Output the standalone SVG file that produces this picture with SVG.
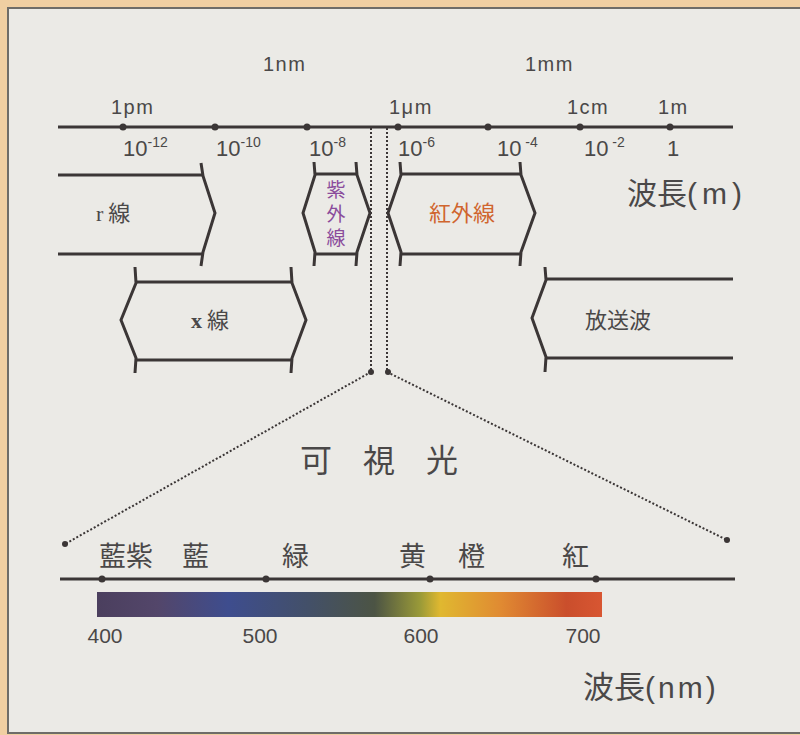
<svg xmlns="http://www.w3.org/2000/svg" width="800" height="735" viewBox="0 0 800 735">
<defs>
<style>
.ln{stroke:#3b3636;stroke-width:3;fill:none;stroke-linecap:butt}
.sh{stroke:#3b3636;stroke-width:3;fill:none;stroke-linejoin:miter}
.dot{fill:#3b3636}
.dt{stroke:#3b3636;stroke-width:2;fill:none;stroke-dasharray:2,2}
.lat{font-family:"Liberation Sans","DejaVu Sans",sans-serif;fill:#4a4848}
.jp{font-family:"Noto Sans CJK JP","Noto Sans CJK SC",sans-serif;fill:#4a4848}
</style>
<linearGradient id="spec" x1="0" y1="0" x2="1" y2="0">
<stop offset="0" stop-color="#4b3f5e"/>
<stop offset="0.12" stop-color="#53466a"/>
<stop offset="0.26" stop-color="#3e4d8e"/>
<stop offset="0.42" stop-color="#435068"/>
<stop offset="0.55" stop-color="#4c5444"/>
<stop offset="0.64" stop-color="#9a9a38"/>
<stop offset="0.68" stop-color="#e0b830"/>
<stop offset="0.80" stop-color="#e08a32"/>
<stop offset="0.93" stop-color="#ca4e2c"/>
<stop offset="1" stop-color="#d85632"/>
</linearGradient>
</defs>
<rect x="0" y="0" width="800" height="735" fill="#f0cfa2"/>
<rect x="8" y="8" width="800" height="725" fill="#ebeae6" stroke="#6e6c68" stroke-width="2"/>

<g id="top-axis">
<line class="ln" x1="58" y1="127" x2="733" y2="127"/>
<circle class="dot" cx="123" cy="127" r="3.5"/>
<circle class="dot" cx="215" cy="127" r="3.5"/>
<circle class="dot" cx="307" cy="127" r="3.5"/>
<circle class="dot" cx="398" cy="127" r="3.5"/>
<circle class="dot" cx="488" cy="127" r="3.5"/>
<circle class="dot" cx="580" cy="127" r="3.5"/>
<circle class="dot" cx="670" cy="127" r="3.5"/>
<g class="lat" font-size="20" letter-spacing="1.5">
<text x="263" y="71">1nm</text>
<text x="525" y="71">1mm</text>
<text x="111" y="114">1pm</text>
<text x="389" y="114">1μm</text>
<text x="567" y="114">1cm</text>
<text x="658" y="114">1m</text>
</g>
<g class="lat" font-size="22">
<text x="123" y="156">10<tspan font-size="14" dy="-9">-12</tspan></text>
<text x="216" y="156">10<tspan font-size="14" dy="-9">-10</tspan></text>
<text x="309" y="156">10<tspan font-size="14" dy="-9">-8</tspan></text>
<text x="398" y="156">10<tspan font-size="14" dy="-9">-6</tspan></text>
<text x="497" y="156">10<tspan font-size="14" dy="-9"> -4</tspan></text>
<text x="584" y="156">10<tspan font-size="14" dy="-9"> -2</tspan></text>
<text x="667" y="156">1</text>
</g>
<text class="jp" x="627" y="204" font-size="30">波長<tspan font-family="Liberation Sans,sans-serif" font-size="30" letter-spacing="5">(m)</tspan></text>
</g>

<g id="gamma">
<line class="ln" x1="58" y1="175" x2="203" y2="175"/>
<line class="ln" x1="58" y1="254" x2="203" y2="254"/>
<path class="sh" d="M201,163 L203,176 L215,213 L203,252 L201,266"/>
<text class="jp" x="96" y="221" font-size="22"><tspan font-family="Liberation Serif,serif">r</tspan> 線</text>
</g>

<g id="uv">
<line class="ln" x1="314" y1="174" x2="358" y2="174"/>
<line class="ln" x1="314" y1="254" x2="358" y2="254"/>
<path class="sh" d="M314,162 L315,175 L303,213 L315,252 L314,266"/>
<path class="sh" d="M356,162 L357,175 L370,213 L357,252 L356,266"/>
<text class="jp" x="336" y="180" font-size="19" writing-mode="vertical-rl" letter-spacing="5" style="fill:#8a4c9c">紫外線</text>
</g>

<g id="ir">
<line class="ln" x1="401" y1="174" x2="521" y2="174"/>
<line class="ln" x1="401" y1="254" x2="521" y2="254"/>
<path class="sh" d="M400,162 L401,175 L388,213 L401,252 L400,266"/>
<path class="sh" d="M520,162 L521,175 L535,213 L521,252 L520,266"/>
<text class="jp" x="462" y="221" font-size="22" text-anchor="middle" style="fill:#d0652e">紅外線</text>
</g>

<g id="xray">
<line class="ln" x1="136" y1="282" x2="292" y2="282"/>
<line class="ln" x1="136" y1="360" x2="292" y2="360"/>
<path class="sh" d="M135,267 L136,283 L121,320 L136,358 L135,373"/>
<path class="sh" d="M291,267 L292,283 L306,320 L292,358 L291,373"/>
<text class="jp" x="191" y="328" font-size="22"><tspan font-family="Liberation Serif,serif" font-weight="bold">x</tspan> 線</text>
</g>

<g id="radio">
<line class="ln" x1="545" y1="279" x2="733" y2="279"/>
<line class="ln" x1="545" y1="358" x2="733" y2="358"/>
<path class="sh" d="M545,267 L546,280 L532,318 L546,357 L545,372"/>
<text class="jp" x="585" y="328" font-size="22">放送波</text>
</g>

<g id="connectors">
<path class="dt" d="M371,128 L371,372 L65,544"/>
<path class="dt" d="M387,128 L387,372 L727,540"/>
<circle class="dot" cx="371" cy="372" r="3"/>
<circle class="dot" cx="388" cy="372" r="3"/>
<circle class="dot" cx="65" cy="544" r="3"/>
<circle class="dot" cx="727" cy="540" r="3"/>
</g>

<g id="visible-label">
<text class="jp" x="300" y="472" font-size="32" letter-spacing="31">可視光</text>
</g>

<g id="bottom-axis">
<line class="ln" x1="60" y1="579" x2="735" y2="579"/>
<circle class="dot" cx="102" cy="579" r="3.5"/>
<circle class="dot" cx="266" cy="579" r="3.5"/>
<circle class="dot" cx="430" cy="579" r="3.5"/>
<circle class="dot" cx="596" cy="579" r="3.5"/>
<g class="jp" font-size="27">
<text x="99" y="566">藍紫</text>
<text x="182" y="566">藍</text>
<text x="282" y="566">緑</text>
<text x="399" y="566">黄</text>
<text x="458" y="566">橙</text>
<text x="562" y="566">紅</text>
</g>
<rect x="97" y="592" width="505" height="25" fill="url(#spec)"/>
<g class="lat" font-size="21">
<text x="105" y="643" text-anchor="middle">400</text>
<text x="260" y="643" text-anchor="middle">500</text>
<text x="421" y="643" text-anchor="middle">600</text>
<text x="583" y="643" text-anchor="middle">700</text>
</g>
<text class="jp" x="583" y="698" font-size="31">波長<tspan font-family="Liberation Sans,sans-serif" font-size="30" letter-spacing="3">(nm)</tspan></text>
</g>
</svg>
